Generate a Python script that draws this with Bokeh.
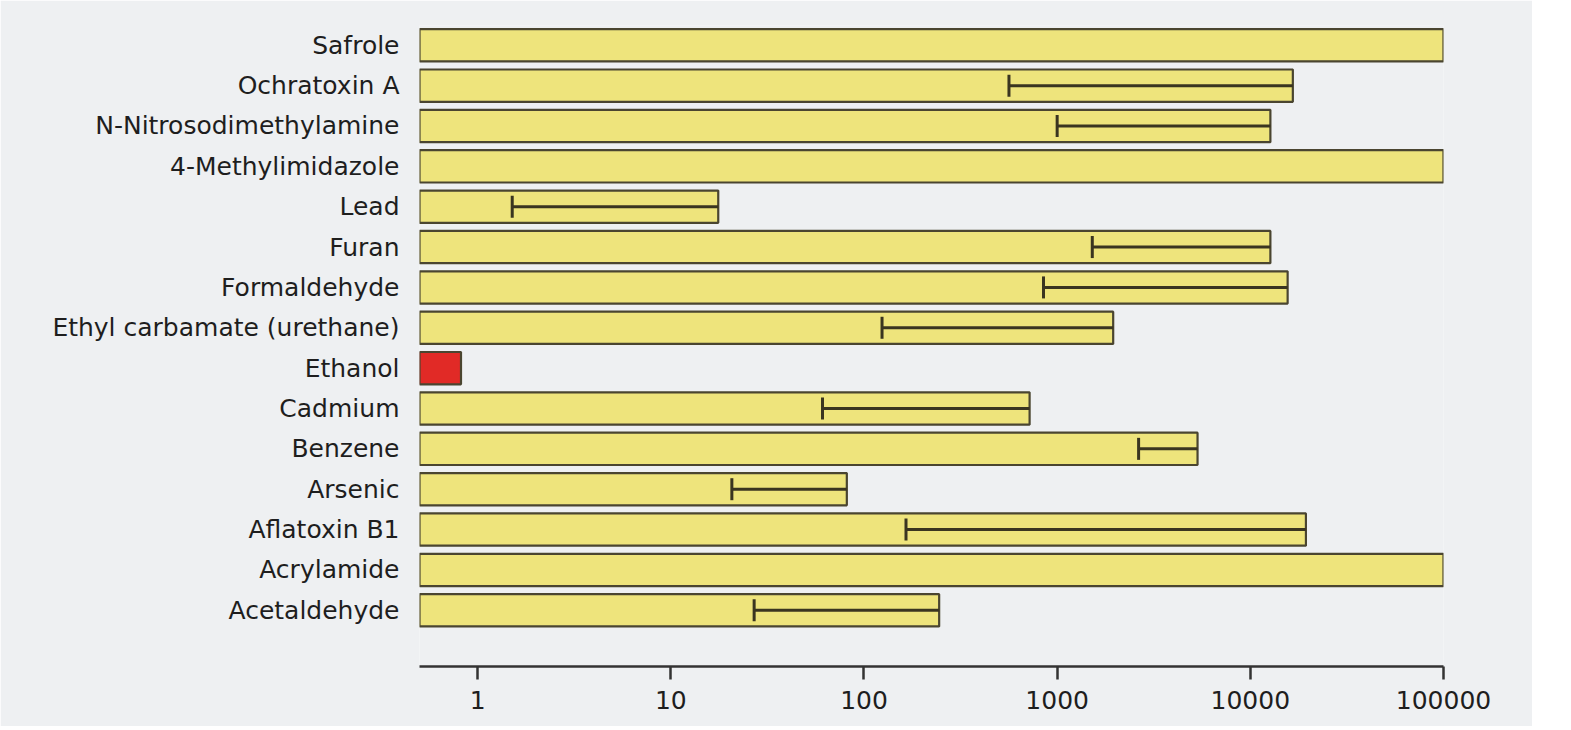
from math import pi
from bokeh.plotting import figure
from bokeh.models import Range1d, FixedTicker, ColumnDataSource
from bokeh.embed import file_html
from bokeh.resources import INLINE

categories = ["Safrole", "Ochratoxin A", "N-Nitrosodimethylamine", "4-Methylimidazole",
              "Lead", "Furan", "Formaldehyde", "Ethyl carbamate (urethane)", "Ethanol",
              "Cadmium", "Benzene", "Arsenic", "Aflatoxin B1", "Acrylamide", "Acetaldehyde"]
moe = [100000, 16600, 12700, 100000, 17.6, 12700, 15600, 1950, 0.82,
       720, 5330, 81.5, 19400, 100000, 245]
moe_low = [None, 563, 1000, None, 1.51, 1520, 850, 124, None,
           61, 2640, 20.7, 165, None, 27]
tick_values = [1, 10, 100, 1000, 10000, 100000]
tick_labels = ["1", "10", "100", "1000", "10000", "100000"]

n = len(categories)
ys = [n - 1 - i for i in range(n)]
colors = ["#e12a26" if c == "Ethanol" else "#eee47c" for c in categories]

src = ColumnDataSource(dict(y=ys, cat=categories, moe=moe, color=colors))
err_idx = [i for i in range(n) if moe_low[i] is not None]
esrc = ColumnDataSource(dict(y=[ys[i] for i in err_idx],
                             lo=[moe_low[i] for i in err_idx],
                             hi=[moe[i] for i in err_idx]))

BG = "#eef0f2"
TXT = "#1e1e1e"
ERR = "#3a3520"

p = figure(width=1532, height=726, x_axis_type="log",
           x_range=Range1d(0.5, 100000), y_range=Range1d(-1.393, 14.49),
           output_backend="svg", toolbar_location=None,
           min_border_left=419, min_border_right=89, min_border_top=25, min_border_bottom=60)
p.background_fill_color = BG
p.border_fill_color = BG
p.outline_line_color = None
p.grid.visible = False

p.hbar(y="y", left=0.5, right="moe", height=0.8, source=src,
       fill_color="color", line_color="#4a4530", line_width=2.2)

p.segment(x0="lo", x1="hi", y0="y", y1="y", source=esrc,
          line_color=ERR, line_width=3)
p.scatter(x="lo", y="y", source=esrc, marker="dash", angle=pi / 2, size=22,
          line_color=ERR, line_width=3)

# x axis
xa = p.xaxis[0]
xa.ticker = FixedTicker(ticks=tick_values)
xa.major_label_overrides = {v: l for v, l in zip(tick_values, tick_labels)}
xa.minor_tick_line_color = None
xa.axis_line_color = "#333333"
xa.axis_line_width = 2.5
xa.major_tick_line_color = "#333333"
xa.major_tick_line_width = 2.5
xa.major_tick_out = 13
xa.major_tick_in = 0
xa.major_label_standoff = 11
xa.major_label_text_font = "DejaVu Sans"
xa.major_label_text_font_size = "25px"
xa.major_label_text_color = TXT

# y axis
ya = p.yaxis[0]
ya.ticker = FixedTicker(ticks=ys)
ya.major_label_overrides = {y: c for y, c in zip(ys, categories)}
ya.axis_line_color = None
ya.major_tick_line_color = None
ya.minor_tick_line_color = None
ya.major_tick_out = 0
ya.major_tick_in = 0
ya.major_label_standoff = 20
ya.major_label_text_font = "DejaVu Sans"
ya.major_label_text_font_size = "25px"
ya.major_label_text_color = TXT

open("out.html", "w").write(file_html(p, INLINE))
